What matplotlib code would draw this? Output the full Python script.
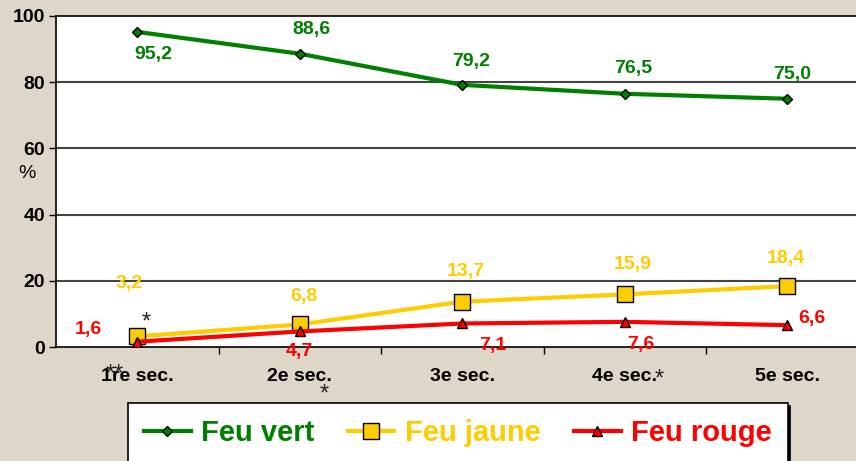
import matplotlib
matplotlib.use("Agg")
import matplotlib.pyplot as plt

categories = ["1re sec.", "2e sec.", "3e sec.", "4e sec.", "5e sec."]
feu_vert = [95.2, 88.6, 79.2, 76.5, 75.0]
feu_jaune = [3.2, 6.8, 13.7, 15.9, 18.4]
feu_rouge = [1.6, 4.7, 7.1, 7.6, 6.6]

vert = "#008000"
jaune = "#FFCC00"
rouge = "#FF0000"
fond = "#DED6C9"

plt.rcParams["font.family"] = ["Liberation Sans", "DejaVu Sans"]

fig = plt.figure(figsize=(8.56, 4.61), dpi=100, facecolor=fond)
ax = fig.add_axes([56 / 856, 114 / 461, 812.5 / 856, 331 / 461])
ax.set_facecolor("white")

x = list(range(len(categories)))
ax.plot(x, feu_vert, color=vert, lw=3, marker="D", ms=5.5, mfc=vert, mec="black", mew=1,
        label="Feu vert", zorder=3)
ax.plot(x, feu_jaune, color=jaune, lw=3, marker="s", ms=11, mfc=jaune, mec="black", mew=1,
        label="Feu jaune", zorder=4)
ax.plot(x, feu_rouge, color=rouge, lw=3, marker="^", ms=7, mfc=rouge, mec="black", mew=1,
        label="Feu rouge", zorder=5)

ax.set_xlim(-0.5, 4.5)
ax.set_ylim(0, 100)
ax.set_yticks([0, 20, 40, 60, 80, 100])
ax.set_xticks(x)
ax.set_xticklabels(categories, fontsize=14, fontweight="bold")
ax.set_xticks([0.5, 1.5, 2.5, 3.5], minor=True)
ax.tick_params(axis="x", which="major", length=0, pad=15)
ax.tick_params(axis="x", which="minor", length=5, width=1, direction="out")
ax.tick_params(axis="y", length=5, width=1, pad=3, labelsize=14)
for t in ax.get_yticklabels():
    t.set_fontweight("bold")

for yv in [20, 40, 60, 80]:
    ax.axhline(yv, color="#444444", lw=1.5, zorder=1)

ax.spines["right"].set_visible(False)
for s in ["left", "top", "bottom"]:
    ax.spines[s].set_linewidth(1.2)

ax.set_ylabel("%", rotation=0, fontsize=14)
ax.yaxis.set_label_coords(-0.036, 0.5)

# positions of value labels, offsets in pixels from the point
off_vert = [(16, -23), (12, 24), (9, 23), (8, 25), (5, 24)]
off_jaune = [(-8, 53), (4, 28), (4, 30), (8, 30), (-1, 28)]
off_rouge = [(-49, 12), (0, -20), (31, -22), (16, -23), (25, 7)]

for i in x:
    ax.annotate(f"{feu_vert[i]:.1f}".replace(".", ","), (i, feu_vert[i]),
                xytext=off_vert[i], textcoords="offset pixels", ha="center", va="center",
                color=vert, fontsize=14, fontweight="bold", zorder=6)
    ax.annotate(f"{feu_jaune[i]:.1f}".replace(".", ","), (i, feu_jaune[i]),
                xytext=off_jaune[i], textcoords="offset pixels", ha="center", va="center",
                color=jaune, fontsize=14, fontweight="bold", zorder=6)
    ax.annotate(f"{feu_rouge[i]:.1f}".replace(".", ","), (i, feu_rouge[i]),
                xytext=off_rouge[i], textcoords="offset pixels", ha="center", va="center",
                color=rouge, fontsize=14, fontweight="bold", zorder=6, annotation_clip=False)

# asterisks
stars = [("*", 0, feu_jaune[0], (9, 14)), ("**", 0, 0, (-22, -28)),
         ("*", 1, 0, (24, -48)), ("*", 3, 0, (34, -33))]
for s, xi, yi, off in stars:
    ax.annotate(s, (xi, yi), xytext=off, textcoords="offset pixels", ha="center", va="center",
                fontsize=17, color="#222222", annotation_clip=False, zorder=7)

leg = fig.legend(loc="upper left", bbox_to_anchor=(128 / 856, 1 - 403 / 461), borderaxespad=0,
                 ncol=3, fontsize=21, frameon=True, fancybox=False, edgecolor="black",
                 handlelength=1.6, handletextpad=0.35, columnspacing=1.15, borderpad=0.55,
                 shadow={"color": "black", "alpha": 1})
leg.get_frame().set_linewidth(1.2)
for txt, col in zip(leg.get_texts(), [vert, jaune, rouge]):
    txt.set_color(col)
    txt.set_fontweight("bold")

fig.savefig("out.png", dpi=100, facecolor=fond)
